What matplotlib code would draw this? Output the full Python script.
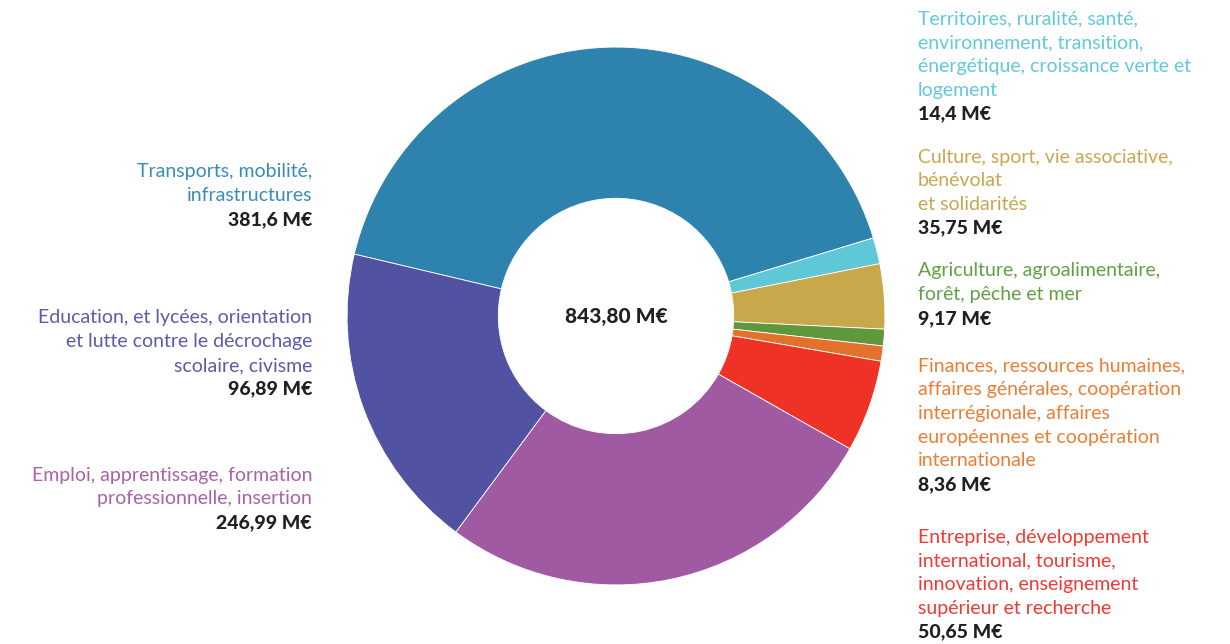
import matplotlib
matplotlib.use("Agg")
import matplotlib.pyplot as plt

# ---- data ----
categories = [
    ["Transports, mobilité,", "infrastructures"],
    ["Territoires, ruralité, santé,", "environnement, transition,",
     "énergétique, croissance verte et", "logement"],
    ["Culture, sport, vie associative,", "bénévolat", "et solidarités"],
    ["Agriculture, agroalimentaire,", "forêt, pêche et mer"],
    ["Finances, ressources humaines,", "affaires générales, coopération",
     "interrégionale, affaires", "européennes et coopération", "internationale"],
    ["Entreprise, développement", "international, tourisme,",
     "innovation, enseignement", "supérieur et recherche"],
    ["Emploi, apprentissage, formation", "professionnelle, insertion"],
    ["Education, et lycées, orientation", "et lutte contre le décrochage",
     "scolaire, civisme"],
]
# amounts printed in the labels (M€)
values = [381.6, 14.4, 35.75, 9.17, 8.36, 50.65, 246.99, 96.89]
# slice sizes as drawn in the reference (the Education slice is drawn
# larger than its printed amount)
slice_values = [381.6, 14.4, 35.75, 9.17, 8.36, 50.65, 246.99, 170.0]
total_label = "843,80 M€"

wedge_colors = ["#2D83AE", "#5EC8D7", "#C9A84C", "#5E973C",
                "#E4712B", "#EE3326", "#A05AA1", "#5252A2"]
text_colors = ["#3A8DB6", "#62C8DA", "#C9A650", "#62A046",
               "#EA7E35", "#EE3A33", "#A763A8", "#5B5CA8"]

plt.rcParams['font.family'] = ['Lato', 'DejaVu Sans']

W, H = 1230, 644
fig = plt.figure(figsize=(W / 100, H / 100), dpi=100)
fig.patch.set_facecolor("white")

cx, cy, R = 616, 316, 270
ax = fig.add_axes([(cx - R) / W, (H - cy - R) / H, 2 * R / W, 2 * R / H])

ax.pie(slice_values, colors=wedge_colors, startangle=166.7, counterclock=False,
       radius=0.996, wedgeprops=dict(width=0.56, edgecolor="white", linewidth=0.6))
ax.set_xlim(-1, 1)
ax.set_ylim(-1, 1)
ax.set_aspect("equal")
ax.axis("off")
ax.text(0, 0, total_label, ha="center", va="center", fontsize=15,
        fontweight="black", color="#231F20")

FS = 14
LH = 23.7
dark = "#231F20"

def fmt(v):
    return str(v).replace(".", ",") + " M€"

def block(x, y0, lines, value, color, ha):
    y = y0
    for ln in lines:
        fig.text(x / W, 1 - y / H, ln, ha=ha, va="center", fontsize=FS, color=color)
        y += LH
    fig.text(x / W, 1 - y / H, fmt(value), ha=ha, va="center", fontsize=FS,
             fontweight="black", color=dark)

# right side blocks (left aligned)
right_idx = [1, 2, 3, 4, 5]
right_y = [19, 157, 271, 366, 537]
for i, y in zip(right_idx, right_y):
    block(918, y, categories[i], values[i], text_colors[i], "left")

# left side blocks (right aligned)
left_idx = [0, 7, 6]
left_y = [172, 318, 475]
for i, y in zip(left_idx, left_y):
    block(312, y, categories[i], values[i], text_colors[i], "right")

fig.savefig("out.png", dpi=100, facecolor="white")
